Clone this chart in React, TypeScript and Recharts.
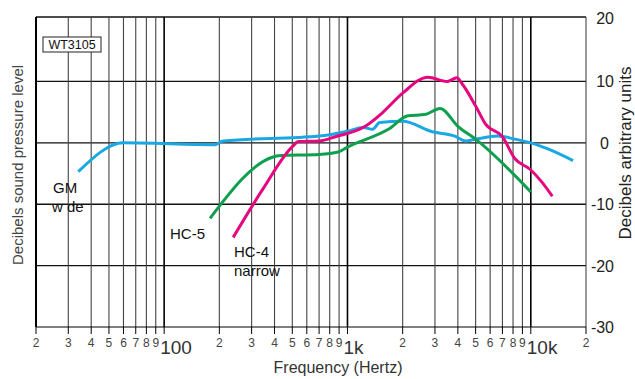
import React from "react";
import { LineChart, Line, XAxis, YAxis, ReferenceLine } from "recharts";

// GM wide (blue)
const gmFreq = [34, 60, 190, 210, 700, 1000, 1220, 1370, 1500, 2000, 2900, 3850, 4400, 5000, 6600, 8200, 10000, 12400, 17000];
const gmDb = [-4.7, 0, -0.3, 0.3, 1.1, 1.9, 2.5, 2.2, 3.3, 3.5, 1.8, 1.1, 0.3, 0.6, 1.1, 0.6, 0, -1, -2.9];

// HC-4 narrow (magenta)
const hc4Freq = [238, 346, 505, 540, 700, 860, 1250, 1550, 2000, 2750, 3500, 3950, 4200, 5000, 5650, 7000, 8200, 9900, 11500, 13100];
const hc4Db = [-15.4, -7.5, -0.5, 0.2, 0.3, 1, 2.7, 4.9, 8.1, 10.7, 10, 10.6, 9.7, 6, 3.1, 1, -2.6, -4.3, -6.4, -8.7];

// HC-5 (green)
const hc5Freq = [178, 393, 420, 700, 890, 1000, 1670, 2140, 2650, 3200, 4000, 5000, 10000];
const hc5Db = [-12.3, -2.3, -2.1, -1.9, -1.5, -0.7, 2.2, 4.4, 4.6, 5.6, 2.7, 0.6, -8.0];

const xTicks = [20, 30, 40, 50, 60, 70, 80, 90, 100, 200, 300, 400, 500, 600, 700, 800, 900, 1000, 2000, 3000, 4000, 5000, 6000, 7000, 8000, 9000, 10000, 20000];
const xTickLabels = ["2", "3", "4", "5", "6", "7", "8", "9", "100", "2", "3", "4", "5", "6", "7", "8", "9", "1k", "2", "3", "4", "5", "6", "7", "8", "9", "10k", "2"];
const majorTicks = [100, 1000, 10000];
const yTicks = [-30, -20, -10, 0, 10, 20];
const yGrid = [-20, -10, 0, 10];

const toRows = (f: number[], v: number[]) => f.map((x, i) => ({ f: x, db: v[i] }));
const gmData = toRows(gmFreq, gmDb);
const hc4Data = toRows(hc4Freq, hc4Db);
const hc5Data = toRows(hc5Freq, hc5Db);

const FONT = "'Liberation Sans', Arial, sans-serif";

const XTick = (props: any) => {
  const { x, payload } = props;
  const i = xTicks.indexOf(payload.value);
  const label = xTickLabels[i];
  if (majorTicks.includes(payload.value)) {
    return (
      <text x={x - 4} y={354} fontSize={19} fill="#333" fontFamily={FONT} textAnchor="start">
        {label}
      </text>
    );
  }
  return (
    <text x={x} y={347} fontSize={12} fill="#444" fontFamily={FONT} textAnchor="middle">
      {label}
    </text>
  );
};

const YTick = (props: any) => {
  const { y, payload } = props;
  const v = payload.value;
  return (
    <text x={v === 0 ? 609 : 614} y={v === 20 ? y + 4 : y + 6} fontSize={16} fill="#222" fontFamily={FONT} textAnchor="end">
      {v}
    </text>
  );
};

export default function App() {
  return (
    <div style={{ position: "absolute", left: 0, top: 0, width: 635, height: 379, background: "#fff" }}>
      <LineChart width={635} height={379} margin={{ top: 17, right: 0, bottom: 0, left: 36 }}>
        {yGrid.map((t) => (
          <ReferenceLine key={"h" + t} y={t} stroke="#111" strokeWidth={1.3} />
        ))}
        <ReferenceLine y={20.5} stroke="#111" strokeWidth={1.4} />
        {xTicks.map((t) => (
          <ReferenceLine
            key={t}
            x={t}
            stroke={majorTicks.includes(t) || t === 20 ? "#000" : "#444"}
            strokeWidth={t === 20 ? 2 : majorTicks.includes(t) ? 1.6 : 1.1}
          />
        ))}
        <XAxis
          dataKey="f"
          type="number"
          scale="log"
          domain={[20, 20000]}
          ticks={xTicks}
          allowDataOverflow
          height={52}
          tickSize={7}
          stroke="#000"
          tick={<XTick />}
          interval={0}
        />
        <YAxis
          orientation="right"
          type="number"
          domain={[-30, 20.5]}
          ticks={yTicks}
          width={49}
          axisLine={false}
          tickLine={false}
          tick={<YTick />}
          interval={0}
        />
        <Line data={gmData} dataKey="db" type="monotone" stroke="#1AA8E4" strokeWidth={3} dot={false} isAnimationActive={false} />
        <Line data={hc5Data} dataKey="db" type="monotone" stroke="#0EA04E" strokeWidth={3} dot={false} isAnimationActive={false} />
        <Line data={hc4Data} dataKey="db" type="monotone" stroke="#E6067F" strokeWidth={3} dot={false} isAnimationActive={false} />
      </LineChart>
      <svg width={635} height={379} style={{ position: "absolute", left: 0, top: 0, pointerEvents: "none" }} fontFamily={FONT}>
        <rect x={43} y={37} width={58} height={15} fill="#fff" stroke="#222" strokeWidth={1} />
        <text x={72} y={49} fontSize={12.5} fill="#111" textAnchor="middle">WT3105</text>
        <text x={53} y={193} fontSize={15} fill="#111">GM</text>
        <text x={52} y={212} fontSize={15} fill="#111">w de</text>
        <text x={170} y={239} fontSize={15} fill="#111">HC-5</text>
        <text x={234} y={257} fontSize={15} fill="#111">HC-4</text>
        <text x={234} y={276} fontSize={15} fill="#111">narrow</text>
        <text x={338} y={373} fontSize={16} fill="#333" textAnchor="middle">Frequency (Hertz)</text>
        <text x={0} y={0} fontSize={15} fill="#444" textAnchor="middle" transform="translate(23,165) rotate(-90)">
          Decibels sound pressure level
        </text>
        <text x={0} y={0} fontSize={17} fill="#222" textAnchor="middle" transform="translate(631,153) rotate(-90)">
          Decibels arbitrary units
        </text>
      </svg>
    </div>
  );
}
